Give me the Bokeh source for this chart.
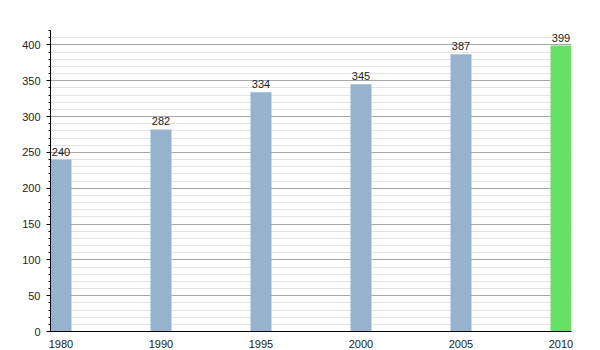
from bokeh.plotting import figure
from bokeh.models import ColumnDataSource, Range1d, SingleIntervalTicker, FixedTicker
from bokeh.core.properties import value
from bokeh.embed import file_html
from bokeh.resources import INLINE

years = ["1980", "1990", "1995", "2000", "2005", "2010"]
population = [240, 282, 334, 345, 387, 399]
colors = ["#97b2cd", "#97b2cd", "#97b2cd", "#97b2cd", "#97b2cd", "#66e066"]

bar_w = 0.21
xs = [i + bar_w / 2 for i in range(len(years))]
src = ColumnDataSource(dict(x=xs, y=population, c=colors,
                            lab=[str(v) for v in population]))

p = figure(width=600, height=350, output_backend="svg", toolbar_location=None,
           x_range=Range1d(0, len(years) - 1 + bar_w), y_range=Range1d(0, 420),
           min_border_left=50, min_border_right=29, min_border_top=30, min_border_bottom=18)
p.outline_line_color = None
p.background_fill_color = "white"
p.border_fill_color = "white"

p.vbar(x="x", top="y", width=bar_w, bottom=0, fill_color="c", line_color=None, source=src)
p.text(x="x", y="y", text="lab", source=src, text_align="center", text_baseline="bottom",
       y_offset=-4, text_font=value("Liberation Sans"), text_font_size="11px", text_color="#222222")

p.xgrid.grid_line_color = None
p.ygrid.grid_line_color = "#a8a8a8"
p.ygrid.minor_grid_line_color = "#e4e4e4"
p.ygrid.level = "underlay"

p.yaxis.ticker = SingleIntervalTicker(interval=50, num_minor_ticks=5)
p.yaxis.axis_line_color = "black"
p.yaxis.major_tick_line_color = "black"
p.yaxis.minor_tick_line_color = "black"
p.yaxis.major_tick_out = 4
p.yaxis.major_tick_in = 0
p.yaxis.minor_tick_out = 2
p.yaxis.minor_tick_in = 0
p.yaxis.major_label_standoff = 6
p.yaxis.major_label_text_font = "Liberation Sans"
p.yaxis.major_label_text_font_size = "11px"
p.yaxis.major_label_text_color = "#222222"

p.xaxis.ticker = FixedTicker(ticks=xs)
p.xaxis.major_label_overrides = {x: y for x, y in zip(xs, years)}
p.xaxis.axis_line_color = "black"
p.xaxis.major_tick_line_color = None
p.xaxis.minor_tick_line_color = None
p.xaxis.major_label_standoff = 2
p.xaxis.major_label_text_font = "Liberation Sans"
p.xaxis.major_label_text_font_size = "11px"
p.xaxis.major_label_text_color = "#222222"

open("out.html", "w").write(file_html(p, INLINE))
